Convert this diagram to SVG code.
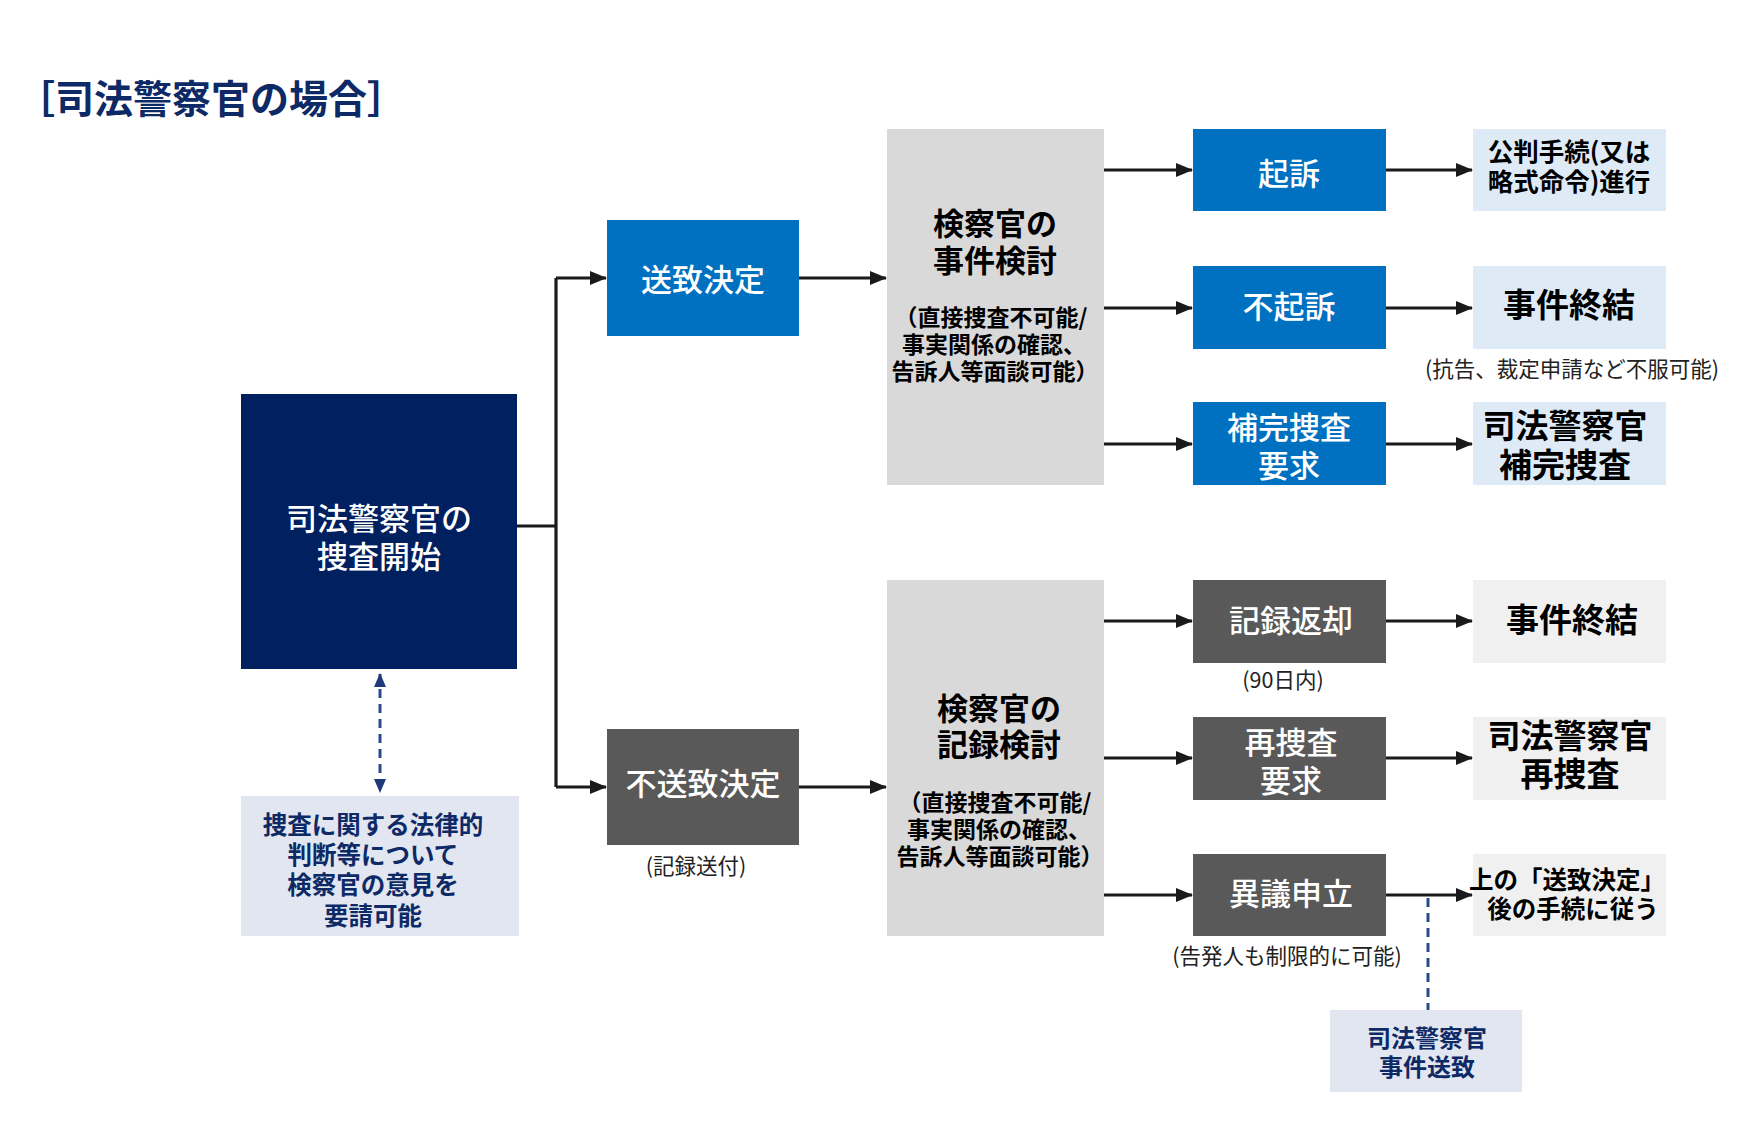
<svg xmlns="http://www.w3.org/2000/svg" width="1755" height="1125" viewBox="0 0 1755 1125">
<style>
text{font-family:"Noto Sans CJK JP","Noto Sans CJK SC",sans-serif;text-anchor:middle;dominant-baseline:central}
.w{fill:#fff;font-size:31px;font-weight:500}
.b{fill:#000;font-weight:700}
.n{fill:#0d2a66;font-weight:700}
.s{fill:#222;font-size:21.5px;font-weight:400}
.ar{fill:none;stroke:#1a1a1a;stroke-width:3.2}
.dash{fill:none;stroke:#2b4a8a;stroke-width:3;stroke-dasharray:9 6}
</style>
<defs>
<marker id="ah" markerWidth="17" markerHeight="14" refX="16" refY="7" orient="auto" markerUnits="userSpaceOnUse">
<path d="M0,0 L17,7 L0,14 Z" fill="#1a1a1a"/>
</marker>
<marker id="nh" markerWidth="14" markerHeight="14" refX="13" refY="7" orient="auto-start-reverse" markerUnits="userSpaceOnUse">
<path d="M0,1 L14,7 L0,13 Z" fill="#1f3a78"/>
</marker>
</defs>
<rect width="1755" height="1125" fill="#fff"/>
<text x="211" y="96" style="font-size:39px;font-weight:700;fill:#0d2a66">［司法警察官の場合］</text>

<g id="connectors">
<path class="ar" d="M517,526 H556"/>
<path class="ar" d="M556,278 V787"/>
<path class="ar" d="M556,278 H606" marker-end="url(#ah)"/>
<path class="ar" d="M556,787 H606" marker-end="url(#ah)"/>
<path class="ar" d="M799,278 H886" marker-end="url(#ah)"/>
<path class="ar" d="M799,787 H886" marker-end="url(#ah)"/>
<path class="ar" d="M1104,170 H1192" marker-end="url(#ah)"/>
<path class="ar" d="M1104,308 H1192" marker-end="url(#ah)"/>
<path class="ar" d="M1104,444 H1192" marker-end="url(#ah)"/>
<path class="ar" d="M1386,170 H1472" marker-end="url(#ah)"/>
<path class="ar" d="M1386,308 H1472" marker-end="url(#ah)"/>
<path class="ar" d="M1386,444 H1472" marker-end="url(#ah)"/>
<path class="ar" d="M1104,621 H1192" marker-end="url(#ah)"/>
<path class="ar" d="M1104,758 H1192" marker-end="url(#ah)"/>
<path class="ar" d="M1104,895 H1192" marker-end="url(#ah)"/>
<path class="ar" d="M1386,621 H1472" marker-end="url(#ah)"/>
<path class="ar" d="M1386,758 H1472" marker-end="url(#ah)"/>
<path class="ar" d="M1386,895 H1472" marker-end="url(#ah)"/>
<path class="dash" d="M380,674 V792" marker-start="url(#nh)" marker-end="url(#nh)"/>
<path class="dash" d="M1428,898 V1010"/>
</g>

<g id="start">
<rect x="241" y="394" width="276" height="275" fill="#012060"/>
<text class="w" x="379" y="516">司法警察官の</text>
<text class="w" x="379" y="554">捜査開始</text>
</g>
<g id="advice">
<rect x="241" y="796" width="278" height="140" fill="#e1e6f0"/>
<text class="n" font-size="24.5" x="373" y="823">捜査に関する法律的</text>
<text class="n" font-size="24.5" x="373" y="853">判断等について</text>
<text class="n" font-size="24.5" x="373" y="883">検察官の意見を</text>
<text class="n" font-size="24.5" x="373" y="914">要請可能</text>
</g>
<g id="soti">
<rect x="607" y="220" width="192" height="116" fill="#0070c0"/>
<text class="w" x="703" y="277">送致決定</text>
</g>
<g id="fusoti">
<rect x="607" y="729" width="192" height="116" fill="#595959"/>
<text class="w" x="703" y="781">不送致決定</text>
<text class="s" x="696" y="864">(記録送付)</text>
</g>
<g id="review1">
<rect x="887" y="129" width="217" height="356" fill="#d9d9d9"/>
<text class="b" font-size="31" x="995" y="221">検察官の</text>
<text class="b" font-size="31" x="995" y="258">事件検討</text>
<text class="b" font-size="23" x="991" y="316">（直接捜査不可能/</text>
<text class="b" font-size="23" x="994" y="343">事実関係の確認、</text>
<text class="b" font-size="23" x="995" y="370">告訴人等面談可能）</text>
</g>
<g id="review2">
<rect x="887" y="580" width="217" height="356" fill="#d9d9d9"/>
<text class="b" font-size="31" x="999" y="706">検察官の</text>
<text class="b" font-size="31" x="999" y="742">記録検討</text>
<text class="b" font-size="23" x="995" y="801">（直接捜査不可能/</text>
<text class="b" font-size="23" x="999" y="828">事実関係の確認、</text>
<text class="b" font-size="23" x="1000" y="855">告訴人等面談可能）</text>
</g>
<g id="kiso">
<rect x="1193" y="129" width="193" height="82" fill="#0070c0"/>
<text class="w" x="1289" y="171">起訴</text>
</g>
<g id="fukiso">
<rect x="1193" y="266" width="193" height="83" fill="#0070c0"/>
<text class="w" x="1289" y="304">不起訴</text>
</g>
<g id="hokan">
<rect x="1193" y="402" width="193" height="83" fill="#0070c0"/>
<text class="w" x="1289" y="425">補完捜査</text>
<text class="w" x="1289" y="463">要求</text>
</g>
<g id="koban">
<rect x="1473" y="129" width="193" height="82" fill="#deebf7"/>
<text class="b" font-size="25.5" x="1569" y="149">公判手続(又は</text>
<text class="b" font-size="25.5" x="1569" y="179">略式命令)進行</text>
</g>
<g id="end1">
<rect x="1473" y="266" width="193" height="83" fill="#deebf7"/>
<text class="b" x="1569" y="303" font-size="33">事件終結</text>
<text class="s" x="1572" y="367">(抗告、裁定申請など不服可能)</text>
</g>
<g id="police1">
<rect x="1473" y="402" width="193" height="83" fill="#deebf7"/>
<text class="b" font-size="33" x="1565" y="424">司法警察官</text>
<text class="b" font-size="33" x="1565" y="463">補完捜査</text>
</g>
<g id="henkyaku">
<rect x="1193" y="580" width="193" height="83" fill="#595959"/>
<text class="w" x="1291" y="618">記録返却</text>
<text class="s" x="1283" y="678">(90日内)</text>
</g>
<g id="saisousa">
<rect x="1193" y="717" width="193" height="83" fill="#595959"/>
<text class="w" x="1291" y="740">再捜査</text>
<text class="w" x="1291" y="778">要求</text>
</g>
<g id="igi">
<rect x="1193" y="854" width="193" height="82" fill="#595959"/>
<text class="w" x="1291" y="891">異議申立</text>
<text class="s" x="1287" y="954">(告発人も制限的に可能)</text>
</g>
<g id="end2">
<rect x="1473" y="580" width="193" height="83" fill="#f0f0f0"/>
<text class="b" x="1572" y="618" font-size="33">事件終結</text>
</g>
<g id="police2">
<rect x="1473" y="717" width="193" height="83" fill="#f0f0f0"/>
<text class="b" font-size="33" x="1570" y="734">司法警察官</text>
<text class="b" font-size="33" x="1570" y="772">再捜査</text>
</g>
<g id="follow">
<rect x="1473" y="854" width="193" height="82" fill="#f0f0f0"/>
<text class="b" font-size="24.5" x="1567" y="878">上の「送致決定」</text>
<text class="b" font-size="24.5" x="1573" y="907">後の手続に従う</text>
</g>
<g id="police3">
<rect x="1330" y="1010" width="192" height="82" fill="#e1e6f0"/>
<text class="n" font-size="24" x="1427" y="1036">司法警察官</text>
<text class="n" font-size="24" x="1427" y="1065">事件送致</text>
</g>
</svg>
